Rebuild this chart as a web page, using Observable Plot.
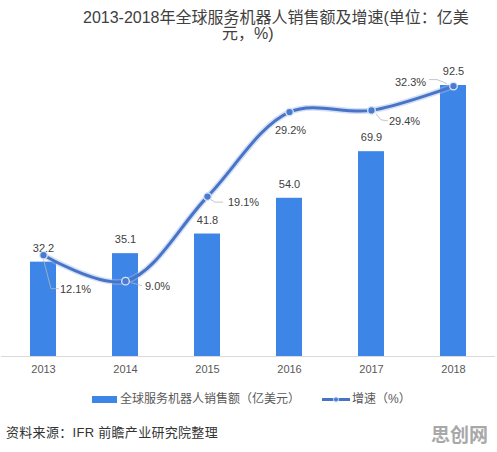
<!DOCTYPE html>
<html>
<head>
<meta charset="utf-8">
<script src="https://cdn.jsdelivr.net/npm/d3@7"></script>
<script src="https://cdn.jsdelivr.net/npm/@observablehq/plot@0.6"></script>
<style>
  html, body { margin: 0; padding: 0; background: #fff; }
  #wrap { position: relative; width: 497px; height: 452px; overflow: hidden;
          font-family: "Liberation Sans", "Noto Sans CJK SC", sans-serif; }
  .t1, .t2 { position: absolute; font-size: 16px; color: #404040; white-space: nowrap; line-height: 15px; height: 15px; }
  .t1 { left: 83px; top: 10px; }
  .t2 { left: 222px; top: 26px; }
  #chart { position: absolute; left: 0; top: 45px; }
  #legend { position: absolute; top: 391px; left: 0; width: 497px; height: 16px; font-size: 12px; color: #595959; }
  #legend .item { position: absolute; top: 0; height: 16px; line-height: 16px; white-space: nowrap; }
  #source { position: absolute; left: 6px; top: 424px; font-size: 13px; color: #333; line-height: 18px; white-space: nowrap; letter-spacing: 0.3px; }
  #mark { position: absolute; left: 431px; top: 423px; font-size: 19px; font-weight: bold; color: #a8a8a8; line-height: 22px; font-family: "Noto Sans CJK SC", sans-serif; }
</style>
</head>
<body>
<div id="wrap">
  <div class="t1">2013-2018年全球服务机器人销售额及增速(单位：亿美</div>
  <div class="t2">元，%)</div>
  <div id="chart"></div>
  <div id="legend"></div>
  <div id="source">资料来源：IFR 前瞻产业研究院整理</div>
  <div id="mark">思创网</div>
</div>
<script>
// ---- data ----
const years = ["2013", "2014", "2015", "2016", "2017", "2018"];
const sales = [32.2, 35.1, 41.8, 54.0, 69.9, 92.5];        // 亿美元
const growth = [12.1, 9.0, 19.1, 29.2, 29.4, 32.3];        // %
const seriesNames = ["全球服务机器人销售额（亿美元）", "增速（%）"];

// axis maxima (left: sales, right: growth)
const salesMax = 100;
const growthMax = 35;

const rows = years.map((year, i) => ({ year, sales: sales[i], growth: growth[i] }));
const gy = d => d.growth * salesMax / growthMax;  // growth on secondary axis

const BAR = "#3d85e6";
const LINE = "#4874c8";

// label offsets per point (pixels), and leader paths (pixels, relative to dot)
const labelStyle = [
  { dx: 32, dy: 34, lead: [[0, 3], [8, 34], [16, 34]] },
  { dx: 32, dy: 5, lead: [[6, 2], [17, 5]] },
  { dx: 36, dy: 6, lead: [[3, 3], [8, 6], [16, 6]] },
  { dx: 1, dy: 18, lead: null },
  { dx: 33, dy: 11, lead: [[5, 4], [10, 10], [17, 11]] },
  { dx: -43, dy: -4, lead: [[-6, -2], [-16, -6], [-24, -6]] }
];

const growthLabelMarks = labelStyle.map((s, i) =>
  Plot.text(rows.filter((d, j) => j === i), {
    x: "year", y: gy, text: d => d.growth.toFixed(1) + "%",
    dx: s.dx, dy: s.dy, fontSize: 11, fill: "#404040"
  })
);

const chart = Plot.plot({
  width: 497,
  height: 337,
  marginLeft: 1,
  marginRight: 2,
  marginTop: 18,
  marginBottom: 26,
  style: { fontFamily: "Liberation Sans, Noto Sans CJK SC, sans-serif", background: "transparent", overflow: "visible" },
  x: { domain: years, paddingInner: 0.68, paddingOuter: 0.34, label: null, tickSize: 0, tickPadding: 9 },
  y: { domain: [0, salesMax], axis: null },
  marks: [
    Plot.ruleY([0], { stroke: "#d9d9d9", strokeWidth: 1 }),
    Plot.barY(rows, { x: "year", y: "sales", fill: BAR }),
    Plot.text(rows, { x: "year", y: "sales", text: d => d.sales.toFixed(1), dy: -14, fontSize: 11, fill: "#404040" }),
    Plot.line(rows, { x: "year", y: gy, curve: "catmull-rom", stroke: "#9fbbe8", strokeWidth: 6, strokeOpacity: 0.45 }),
    Plot.line(rows, { x: "year", y: gy, curve: "catmull-rom", stroke: LINE, strokeWidth: 3 }),
    Plot.dot(rows, { x: "year", y: gy, r: 3.8, fill: "#4a7bd0", stroke: "#dce7f8", strokeWidth: 1.3 }),
    ...growthLabelMarks
  ]
});

// x axis tick label styling
d3.select(chart).selectAll("g[aria-label^='x-axis']").style("font-size", "11px").attr("fill", "#595959");

document.getElementById("chart").appendChild(chart);

// leader lines using the chart's scales
(function () {
  const sx = chart.scale("x"), sy = chart.scale("y");
  const bw = sx.bandwidth || 0;
  const px = v => (sx.apply ? sx.apply(v) : d3.scaleBand(sx.domain, sx.range).paddingInner(sx.paddingInner).paddingOuter(sx.paddingOuter)(v)) + bw / 2;
  const py = v => (sy.apply ? sy.apply(v) : d3.scaleLinear(sy.domain, sy.range)(v));
  const svg = d3.select(chart.tagName.toLowerCase() === "svg" ? chart : chart.querySelector("svg"));
  const g = svg.insert("g", "g[aria-label='dot']");
  rows.forEach((d, i) => {
    const s = labelStyle[i];
    if (!s.lead) return;
    const x0 = px(d.year), y0 = py(gy(d));
    const pts = s.lead.map(([a, b]) => [x0 + a, y0 + b]);
    g.append("path")
      .attr("d", d3.line()(pts))
      .attr("fill", "none")
      .attr("stroke", "#b8b8b8")
      .attr("stroke-width", 0.8);
  });
})();

// legend
(function () {
  const lg = d3.select("#legend");
  lg.append("div").attr("class", "item").style("left", "92px").style("top", "5px")
    .style("width", "25px").style("height", "7px").style("background", BAR);
  lg.append("div").attr("class", "item").style("left", "120px").text(seriesNames[0]);
  const s = lg.append("svg").attr("width", 30).attr("height", 16)
    .style("position", "absolute").style("left", "321px").style("top", "0px");
  s.append("line").attr("x1", 1).attr("x2", 29).attr("y1", 8.5).attr("y2", 8.5)
    .attr("stroke", LINE).attr("stroke-width", 3);
  s.append("circle").attr("cx", 15).attr("cy", 8.5).attr("r", 2.5)
    .attr("fill", "#4a7bd0").attr("stroke", "#dce7f8").attr("stroke-width", 1);
  lg.append("div").attr("class", "item").style("left", "352px").text(seriesNames[1]);
})();
</script>
</body>
</html>
